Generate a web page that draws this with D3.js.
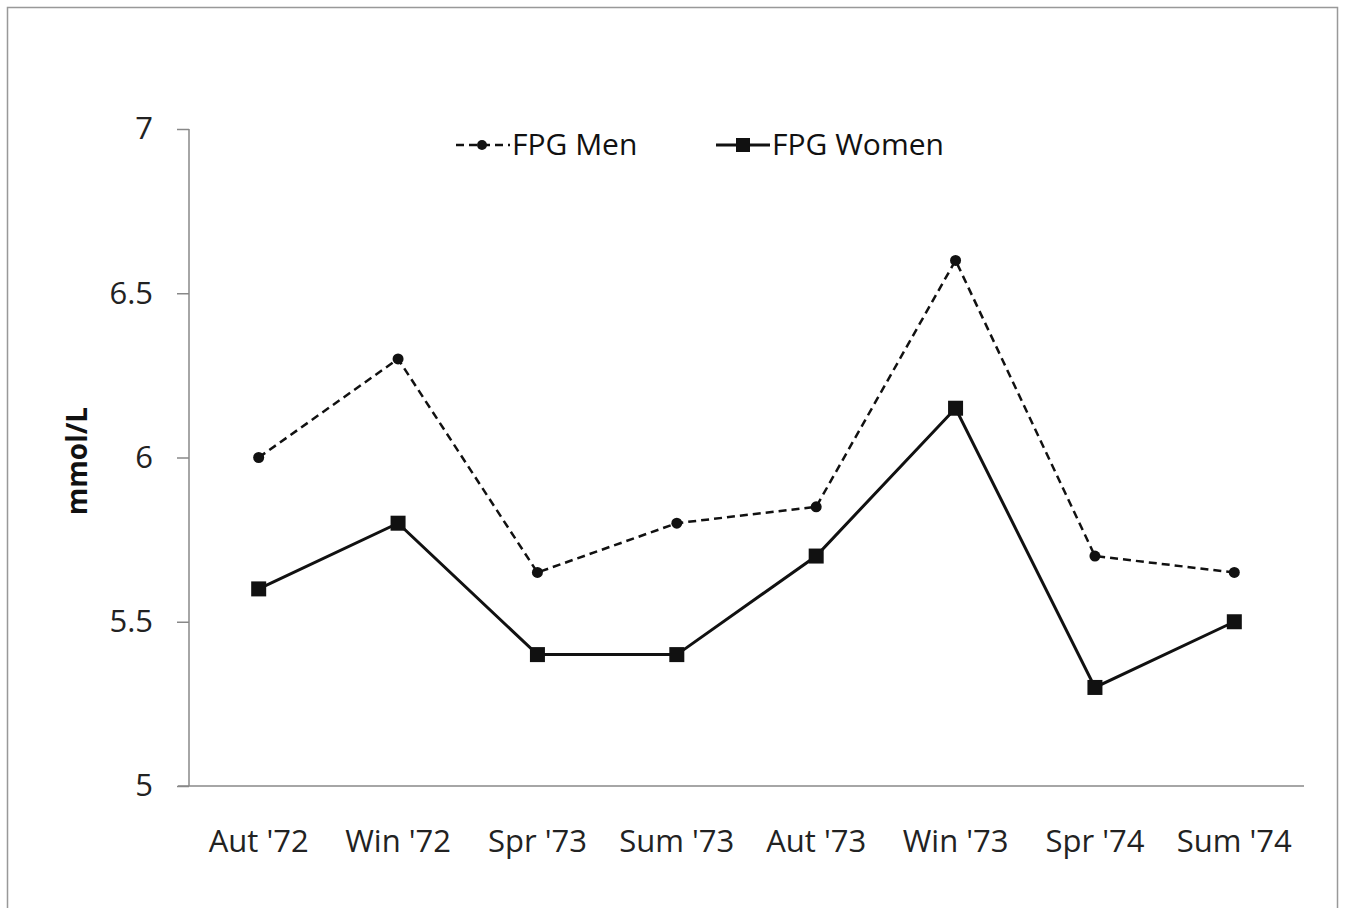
<!DOCTYPE html>
<html><head><meta charset="utf-8">
<script src="https://cdn.jsdelivr.net/npm/d3@7"></script>
<style>body{margin:0;background:#fff;}svg{display:block;font-family:"Open Sans",sans-serif;}</style>
</head><body>
<script>
const categories = ["Aut '72","Win '72","Spr '73","Sum '73","Aut '73","Win '73","Spr '74","Sum '74"];
const menValues = [6.0, 6.3, 5.65, 5.8, 5.85, 6.6, 5.7, 5.65];
const womenValues = [5.6, 5.8, 5.4, 5.4, 5.7, 6.15, 5.3, 5.5];
const yTicks = [5, 5.5, 6, 6.5, 7];
const yTickLabels = ["5","5.5","6","6.5","7"];
const seriesNames = ["FPG Men","FPG Women"];

const W = 1345, H = 908;
const svg = d3.select("body").append("svg").attr("width", W).attr("height", H);
svg.append("rect").attr("x",7.5).attr("y",7.5).attr("width",1330).attr("height",H+10)
  .attr("fill","#fff").attr("stroke","#999").attr("stroke-width",1.5);

const x = d3.scaleBand().domain(categories).range([189, 1304]);
const y = d3.scaleLinear().domain([5,7]).range([786,129]);

// y axis
const ya = svg.append("g").attr("transform","translate(189,0)")
  .call(d3.axisLeft(y).tickValues(yTicks).tickFormat((d,i)=>yTickLabels[i]).tickSize(12).tickPadding(24));
ya.select(".domain").attr("stroke","#888").attr("stroke-width",1.5).attr("d","M0,786V129");
ya.selectAll(".tick line").attr("stroke","#888").attr("stroke-width",1.5);
ya.selectAll("text").attr("font-size",31).attr("fill","#222").attr("font-family","Open Sans, sans-serif");

// x axis
const xa = svg.append("g").attr("transform","translate(0,786)")
  .call(d3.axisBottom(x).tickSize(0).tickPadding(44));
xa.select(".domain").attr("stroke","#888").attr("stroke-width",1.5).attr("d","M178,0H1304");
xa.selectAll("text").attr("font-size",31).attr("fill","#222").attr("font-family","Open Sans, sans-serif");

// y label
svg.append("text").attr("transform","translate(87,461) rotate(-90)").attr("text-anchor","middle")
  .attr("font-size",28).attr("font-weight","bold").attr("fill","#111").text("mmol/L");

const cx = d => x(d) + x.bandwidth()/2;
const line = vals => d3.line().x((d,i)=>cx(categories[i])).y(d=>y(d))(vals);

// men
svg.append("path").attr("d", line(menValues)).attr("fill","none").attr("stroke","#111")
  .attr("stroke-width",2.5).attr("stroke-dasharray","8,5");
svg.selectAll(".mdot").data(menValues).enter().append("circle")
  .attr("cx",(d,i)=>cx(categories[i])).attr("cy",d=>y(d)).attr("r",5.5).attr("fill","#111");

// women
svg.append("path").attr("d", line(womenValues)).attr("fill","none").attr("stroke","#111").attr("stroke-width",3);
svg.selectAll(".wsq").data(womenValues).enter().append("rect")
  .attr("x",(d,i)=>cx(categories[i])-7.5).attr("y",d=>y(d)-7.5).attr("width",15).attr("height",15).attr("fill","#111");

// legend
const lg = svg.append("g");
lg.append("line").attr("x1",456).attr("x2",510).attr("y1",145).attr("y2",145).attr("stroke","#111").attr("stroke-width",2.5).attr("stroke-dasharray","8,5");
lg.append("circle").attr("cx",482).attr("cy",145).attr("r",5).attr("fill","#111");
lg.append("text").attr("x",512).attr("y",155).attr("font-size",30).attr("fill","#111").text(seriesNames[0]);
lg.append("line").attr("x1",716).attr("x2",770).attr("y1",145).attr("y2",145).attr("stroke","#111").attr("stroke-width",3);
lg.append("rect").attr("x",736).attr("y",138).attr("width",14).attr("height",14).attr("fill","#111");
lg.append("text").attr("x",772).attr("y",155).attr("font-size",30).attr("fill","#111").text(seriesNames[1]);
</script>
</body></html>
